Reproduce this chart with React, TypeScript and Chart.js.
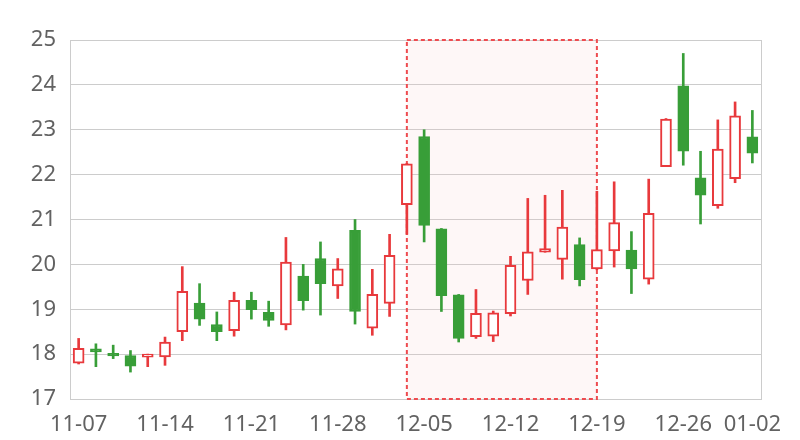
import React, { useEffect, useRef } from 'react';
import { Chart, registerables } from 'chart.js';

Chart.register(...registerables);

const dates = [
  '11-07', '11-08', '11-09', '11-10', '11-13', '11-14', '11-15', '11-16', '11-17', '11-20',
  '11-21', '11-22', '11-23', '11-24', '11-27', '11-28', '11-29', '11-30', '12-01', '12-04',
  '12-05', '12-06', '12-07', '12-08', '12-11', '12-12', '12-13', '12-14', '12-15', '12-18',
  '12-19', '12-20', '12-21', '12-22', '12-25', '12-26', '12-27', '12-28', '12-29', '01-02',
];
const opens = [
  17.80, 18.12, 18.02, 17.97, 17.93, 17.94, 18.50, 19.14, 18.66, 18.52,
  19.20, 18.93, 18.65, 19.74, 20.13, 19.52, 20.76, 18.58, 19.13, 21.33,
  22.85, 20.79, 19.32, 18.39, 18.40, 18.90, 19.64, 20.27, 20.11, 20.44,
  19.90, 20.30, 20.32, 19.67, 22.18, 23.98, 21.93, 21.31, 21.91, 22.84,
];
const closes = [
  18.13, 18.05, 17.96, 17.73, 18.00, 18.27, 19.40, 18.78, 18.50, 19.20,
  18.99, 18.75, 20.05, 19.19, 19.57, 19.90, 18.95, 19.33, 20.20, 22.24,
  20.87, 19.30, 18.35, 18.91, 18.92, 19.98, 20.28, 20.35, 20.83, 19.66,
  20.33, 20.93, 19.90, 21.14, 23.24, 22.52, 21.54, 22.57, 23.31, 22.48,
];
const lows = [
  17.78, 17.72, 17.90, 17.60, 17.72, 17.75, 18.30, 18.64, 18.30, 18.40,
  18.78, 18.62, 18.54, 18.98, 18.87, 19.24, 18.67, 18.42, 18.84, 20.67,
  20.50, 18.95, 18.27, 18.35, 18.28, 18.85, 19.33, 20.27, 19.67, 19.52,
  19.88, 19.94, 19.35, 19.56, 22.18, 22.21, 20.90, 21.25, 21.82, 22.26,
];
const highs = [
  18.35, 18.23, 18.20, 18.08, 18.00, 18.38, 19.95, 19.57, 18.94, 19.38,
  19.38, 19.18, 20.60, 20.00, 20.50, 20.13, 21.00, 19.89, 20.67, 22.25,
  23.00, 20.80, 19.33, 19.44, 18.96, 20.18, 21.47, 21.54, 21.65, 20.59,
  21.63, 21.84, 20.73, 21.90, 23.25, 24.70, 22.52, 23.22, 23.62, 23.43,
];
const markStart = '12-04';
const markEnd = '12-19';
const yMin = 17;
const yMax = 25;

const RED = '#e8393c';
const GREEN = '#389e38';
const GRID = '#cccccc';
const TEXT = '#626262';
const FONT = "'Noto Sans', sans-serif";

export default function App() {
  const ref = useRef<HTMLCanvasElement>(null);

  useEffect(() => {
    if (!ref.current) return;
    const up = opens.map((o, i) => closes[i] >= o);

    const markPlugin = {
      id: 'markArea',
      beforeDatasetsDraw(chart: any) {
        const { ctx, chartArea, scales } = chart;
        const x1 = scales.x.getPixelForValue(dates.indexOf(markStart));
        const x2 = scales.x.getPixelForValue(dates.indexOf(markEnd));
        const top = scales.y.getPixelForValue(yMax);
        const bottom = scales.y.getPixelForValue(yMin);
        ctx.save();
        ctx.strokeStyle = GRID;
        ctx.lineWidth = 1;
        ctx.beginPath();
        ctx.moveTo(Math.round(chartArea.right) + 0.5, top);
        ctx.lineTo(Math.round(chartArea.right) + 0.5, bottom);
        ctx.stroke();
        ctx.fillStyle = 'rgba(250, 200, 200, 0.15)';
        ctx.fillRect(x1, top, x2 - x1, bottom - top);
        ctx.strokeStyle = '#ee4b4f';
        ctx.lineWidth = 2;
        ctx.setLineDash([4, 3]);
        ctx.strokeRect(x1, top, x2 - x1, bottom - top);
        ctx.restore();
      },
    };

    const chart = new Chart(ref.current, {
      type: 'bar',
      data: {
        labels: dates,
        datasets: [
          {
            label: 'body',
            order: 0,
            data: opens.map((o, i) => [o, closes[i]]),
            backgroundColor: up.map((u) => (u ? '#ffffff' : GREEN)),
            borderColor: up.map((u) => (u ? RED : GREEN)),
            borderWidth: 2,
            borderSkipped: false,
            barThickness: 11,
            grouped: false,
          } as any,
          {
            label: 'wick',
            order: 1,
            data: lows.map((l, i) => [l, highs[i]]),
            backgroundColor: up.map((u) => (u ? RED : GREEN)),
            borderWidth: 0,
            barThickness: 2,
            grouped: false,
          } as any,
        ],
      },
      options: {
        responsive: false,
        animation: false,
        layout: { padding: { top: 40, right: 39, left: 0, bottom: 0 } },
        plugins: {
          legend: { display: false },
          tooltip: { enabled: false },
        },
        scales: {
          x: {
            type: 'category',
            offset: true,
            grid: { display: false, drawTicks: false },
            border: { display: true, color: GRID },
            afterFit: (s: any) => { s.height = 41; },
            ticks: {
              autoSkip: false,
              maxRotation: 0,
              padding: 13,
              color: TEXT,
              font: { family: FONT, size: 22 },
              callback: (_v: any, i: number) =>
                i % 5 === 0 || i === dates.length - 1 ? dates[i] : '',
            },
          },
          y: {
            min: yMin,
            max: yMax,
            grid: { color: GRID, drawTicks: false },
            border: { display: true, color: GRID },
            afterFit: (s: any) => { s.width = 70; },
            ticks: {
              stepSize: 1,
              padding: 14,
              color: TEXT,
              font: { family: FONT, size: 22 },
            },
          },
        },
      },
      plugins: [markPlugin],
    });
    return () => chart.destroy();
  }, []);

  return (
    <div style={{ position: 'absolute', left: 0, top: 0, width: 800, height: 440, background: '#fff' }}>
      <canvas ref={ref} width={800} height={440} />
    </div>
  );
}
